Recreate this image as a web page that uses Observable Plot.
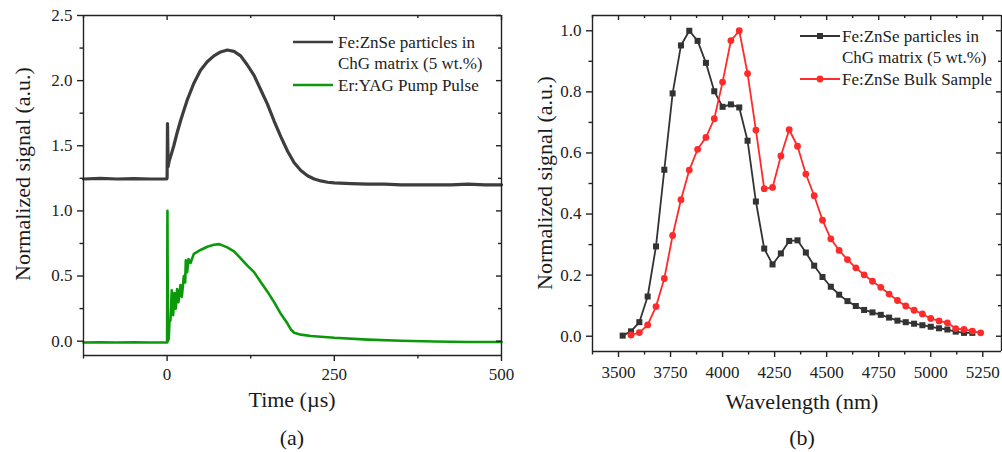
<!DOCTYPE html>
<html>
<head>
<meta charset="utf-8">
<script src="https://cdn.jsdelivr.net/npm/d3@7"></script>
<script src="https://cdn.jsdelivr.net/npm/@observablehq/plot@0.6"></script>
<style>
  body { margin: 0; background: #fff; }
  #wrap { position: relative; width: 1002px; height: 452px; overflow: hidden; background: #fff; }
</style>
</head>
<body>
<div id="wrap"></div>
<script>
// ---------- Panel (a): time traces ----------
const timeFe = [-125, -100, -75, -50, -25, -1, 0, 0.6, 1.5, 3, 6, 10, 15, 20, 25, 30, 40, 50, 60, 70, 80, 90, 100, 110, 120, 130, 140, 150, 160, 170, 180, 190, 200, 210, 220, 230, 240, 250, 275, 300, 325, 350, 375, 400, 425, 450, 475, 500];
const signalFe = [1.245, 1.25, 1.245, 1.248, 1.245, 1.245, 1.25, 1.67, 1.34, 1.38, 1.43, 1.5, 1.6, 1.69, 1.77, 1.85, 1.98, 2.08, 2.145, 2.19, 2.22, 2.235, 2.225, 2.19, 2.12, 2.04, 1.93, 1.82, 1.69, 1.57, 1.46, 1.37, 1.31, 1.27, 1.245, 1.23, 1.22, 1.215, 1.21, 1.205, 1.205, 1.2, 1.2, 1.2, 1.2, 1.205, 1.2, 1.2];
const timePump = [-125, -100, -75, -50, -25, -1, 0, 0.5, 1.2, 2.5, 3.5, 5, 7, 9, 11, 13, 15, 17, 20, 22, 25, 27, 28, 30, 32, 35, 40, 50, 60, 70, 78, 90, 100, 110, 120, 130, 140, 150, 160, 170, 180, 185, 190, 200, 215, 250, 300, 350, 400, 450, 500];
const signalPump = [-0.01, -0.008, -0.01, -0.009, -0.01, -0.01, -0.01, 1.0, 0.0, 0.02, 0.15, 0.16, 0.39, 0.2, 0.37, 0.25, 0.4, 0.3, 0.43, 0.34, 0.5, 0.45, 0.62, 0.53, 0.63, 0.6, 0.67, 0.70, 0.725, 0.74, 0.745, 0.72, 0.69, 0.635, 0.58, 0.53, 0.455, 0.38, 0.30, 0.21, 0.135, 0.09, 0.065, 0.05, 0.04, 0.026, 0.012, 0.003, -0.003, -0.006, -0.006];
const timeTicks = [0, 250, 500];
const timeMinorTicks = [-125, 125, 375];
const signalTicksA = [0, 0.5, 1.0, 1.5, 2.0, 2.5];
const signalMinorTicksA = [0.25, 0.75, 1.25, 1.75, 2.25];
const legendA = ["Fe:ZnSe particles in", "ChG matrix (5 wt.%)", "Er:YAG Pump Pulse"];

// ---------- Panel (b): spectra ----------
const wlParticles = [3520, 3560, 3600, 3640, 3680, 3720, 3760, 3800, 3840, 3880, 3920, 3960, 4000, 4040, 4080, 4120, 4160, 4200, 4240, 4280, 4320, 4360, 4400, 4440, 4480, 4520, 4560, 4600, 4640, 4680, 4720, 4760, 4800, 4840, 4880, 4920, 4960, 5000, 5040, 5080, 5120, 5160, 5200];
const specParticles = [0.002, 0.016, 0.046, 0.13, 0.294, 0.545, 0.795, 0.952, 1.0, 0.967, 0.895, 0.802, 0.751, 0.759, 0.749, 0.64, 0.441, 0.287, 0.235, 0.271, 0.312, 0.314, 0.274, 0.231, 0.194, 0.162, 0.136, 0.115, 0.099, 0.086, 0.078, 0.07, 0.061, 0.051, 0.046, 0.041, 0.036, 0.031, 0.026, 0.022, 0.015, 0.011, 0.011];
const wlBulk = [3560, 3600, 3640, 3680, 3720, 3760, 3800, 3840, 3880, 3920, 3960, 4000, 4040, 4080, 4120, 4160, 4200, 4240, 4280, 4320, 4360, 4400, 4440, 4480, 4520, 4560, 4600, 4640, 4680, 4720, 4760, 4800, 4840, 4880, 4920, 4960, 5000, 5040, 5080, 5120, 5160, 5200, 5240];
const specBulk = [0.004, 0.012, 0.037, 0.097, 0.189, 0.33, 0.447, 0.544, 0.612, 0.651, 0.712, 0.832, 0.968, 1.0, 0.86, 0.675, 0.483, 0.487, 0.59, 0.676, 0.622, 0.531, 0.46, 0.38, 0.319, 0.281, 0.251, 0.224, 0.201, 0.18, 0.16, 0.138, 0.117, 0.099, 0.085, 0.073, 0.058, 0.05, 0.044, 0.025, 0.022, 0.017, 0.011];
const wlTicks = [3500, 3750, 4000, 4250, 4500, 4750, 5000, 5250];
const wlMinorTicks = [3375, 3625, 3875, 4125, 4375, 4625, 4875, 5125];
const signalTicksB = [0, 0.2, 0.4, 0.6, 0.8, 1.0];
const signalMinorTicksB = [0.1, 0.3, 0.5, 0.7, 0.9];
const legendB = ["Fe:ZnSe particles in", "ChG matrix (5 wt.%)", "Fe:ZnSe Bulk Sample"];

const FONT = "Liberation Serif";
const INK = "#222222";
const C_FE = "#3d3d3d", C_PUMP = "#0b990b", C_PART = "#333333", C_BULK = "#ff2a2a";

const zip = (xs, ys) => xs.map((x, i) => ({x, y: ys[i]}));
const feData = zip(timeFe, signalFe);
const pumpData = zip(timePump, signalPump);
const partData = zip(wlParticles, specParticles);
const bulkData = zip(wlBulk, specBulk);

// Box frame + Origin-style ticks (outward bottom/left, inward top/right)
function boxAxes(cfg) {
  const {xDom, yDom, w, h, ml, mr, mt, mb, xMajor, xMinor, yMajor, yMinor, xFmt, yFmt, xPad, yPad} = cfg;
  const [x0, x1] = xDom, [y0, y1] = yDom;
  const ux = (x1 - x0) / (w - ml - mr);
  const uy = (y1 - y0) / (h - mt - mb);
  const S = {stroke: INK, strokeWidth: 1.4};
  return [
    Plot.ruleX([x0, x1], {x: d => d, ...S}),
    Plot.ruleY([y0, y1], {y: d => d, x1: x0, x2: x1, ...S}),
    Plot.ruleX(xMajor, {x: d => d, y1: y0, y2: y0 - 6 * uy, ...S}),
    Plot.ruleX(xMinor, {x: d => d, y1: y0, y2: y0 - 3.5 * uy, ...S}),
    Plot.ruleX(xMajor, {x: d => d, y1: y1, y2: y1 - 5 * uy, ...S}),
    Plot.ruleX(xMinor, {x: d => d, y1: y1, y2: y1 - 3 * uy, ...S}),
    Plot.ruleY(yMajor, {y: d => d, x1: x0, x2: x0 - 6 * ux, ...S}),
    Plot.ruleY(yMinor, {y: d => d, x1: x0, x2: x0 - 3.5 * ux, ...S}),
    Plot.ruleY(yMajor, {y: d => d, x1: x1, x2: x1 - 5 * ux, ...S}),
    Plot.ruleY(yMinor, {y: d => d, x1: x1, x2: x1 - 3 * ux, ...S}),
    Plot.axisX(xMajor, {anchor: "bottom", tickSize: 0, tickPadding: 6 + xPad, tickFormat: xFmt,
      label: null, fill: INK, fontSize: 17, fontFamily: FONT}),
    Plot.axisY(yMajor, {anchor: "left", tickSize: 0, tickPadding: 6 + yPad, tickFormat: yFmt,
      label: null, fill: INK, fontSize: 17, fontFamily: FONT})
  ];
}

const dimA = {w: 505, h: 452, ml: 83, mr: 4, mt: 15, mb: 97};
const domA = {xDom: [-125, 500], yDom: [-0.11, 2.5]};
const plotA = Plot.plot({
  width: dimA.w, height: dimA.h,
  marginLeft: dimA.ml, marginRight: dimA.mr, marginTop: dimA.mt, marginBottom: dimA.mb,
  style: {background: "transparent", overflow: "visible"},
  x: {domain: domA.xDom},
  y: {domain: domA.yDom},
  marks: [
    Plot.line(feData, {x: "x", y: "y", stroke: C_FE, strokeWidth: 3.2}),
    Plot.line(pumpData, {x: "x", y: "y", stroke: C_PUMP, strokeWidth: 2.6}),
    ...boxAxes({...domA, ...dimA, xMajor: timeTicks, xMinor: timeMinorTicks, yMajor: signalTicksA, yMinor: signalMinorTicksA,
      xFmt: d3.format("d"), yFmt: d3.format(".1f"), xPad: 6, yPad: 5})
  ]
});

const dimB = {w: 502, h: 452, ml: 92, mr: 1, mt: 15, mb: 101};
const domB = {xDom: [3375, 5340], yDom: [-0.05, 1.05]};
const plotB = Plot.plot({
  width: dimB.w, height: dimB.h,
  marginLeft: dimB.ml, marginRight: dimB.mr, marginTop: dimB.mt, marginBottom: dimB.mb,
  style: {background: "transparent", overflow: "visible"},
  x: {domain: domB.xDom},
  y: {domain: domB.yDom},
  marks: [
    Plot.line(partData, {x: "x", y: "y", stroke: C_PART, strokeWidth: 1.8}),
    Plot.dot(partData, {x: "x", y: "y", symbol: "square", fill: C_PART, r: 3.4}),
    Plot.line(bulkData, {x: "x", y: "y", stroke: C_BULK, strokeWidth: 1.8}),
    Plot.dot(bulkData, {x: "x", y: "y", symbol: "circle", fill: C_BULK, r: 3.4}),
    ...boxAxes({...domB, ...dimB, xMajor: wlTicks, xMinor: wlMinorTicks, yMajor: signalTicksB, yMinor: signalMinorTicksB,
      xFmt: d3.format("d"), yFmt: d3.format(".1f"), xPad: 8, yPad: 5})
  ]
});

// ---------- merge both panels into one SVG ----------
const svgNS = "http://www.w3.org/2000/svg";
plotA.setAttribute("width", 1002);
plotA.setAttribute("viewBox", "0 0 1002 452");
const gB = document.createElementNS(svgNS, "g");
gB.setAttribute("transform", "translate(500,0)");
Array.from(plotB.childNodes).forEach(child => {
  if (String(child.nodeName).toLowerCase() !== "style") gB.appendChild(child);
});
plotA.appendChild(gB);
const wrap = document.getElementById("wrap");
wrap.appendChild(plotA);

// ---------- titles and legends ----------
const ann = d3.select(plotA).append("g").attr("font-family", FONT).attr("fill", "#1a1a1a");
function addTitle(txt, x, y, rot) {
  const t = ann.append("text").attr("font-size", 22).attr("text-anchor", "middle").attr("dy", "0.32em").text(txt);
  if (rot) t.attr("transform", "translate(" + x + "," + y + ") rotate(-90)");
  else t.attr("x", x).attr("y", y);
}
addTitle("Time (µs)", 292, 400, false);
addTitle("(a)", 292, 438, false);
addTitle("Normalized signal (a.u.)", 23, 174, true);
addTitle("Wavelength (nm)", 802, 402, false);
addTitle("(b)", 802, 438, false);
addTitle("Normalized signal (a.u.)", 545, 183, true);

function row(txt, tx, cy, sw) {
  if (sw) {
    ann.append("line").attr("x1", sw.x0).attr("x2", sw.x0 + 40).attr("y1", cy).attr("y2", cy)
      .attr("stroke", sw.color).attr("stroke-width", sw.width);
    if (sw.mark === "square") ann.append("rect").attr("x", sw.x0 + 17).attr("y", cy - 3).attr("width", 6).attr("height", 6).attr("fill", sw.color);
    if (sw.mark === "circle") ann.append("circle").attr("cx", sw.x0 + 20).attr("cy", cy).attr("r", 3.4).attr("fill", sw.color);
  }
  ann.append("text").attr("x", tx).attr("y", cy + 5.6).attr("font-size", 17).attr("text-anchor", "start").attr("fill", INK).text(txt);
}
row(legendA[0], 338, 42, {x0: 293, color: C_FE, width: 2.6});
row(legendA[1], 338, 63);
row(legendA[2], 338, 85, {x0: 293, color: C_PUMP, width: 2.6});
row(legendB[0], 842, 36, {x0: 800, color: C_PART, width: 1.8, mark: "square"});
row(legendB[1], 842, 57.5);
row(legendB[2], 842, 79, {x0: 800, color: C_BULK, width: 1.8, mark: "circle"});
</script>
</body>
</html>
